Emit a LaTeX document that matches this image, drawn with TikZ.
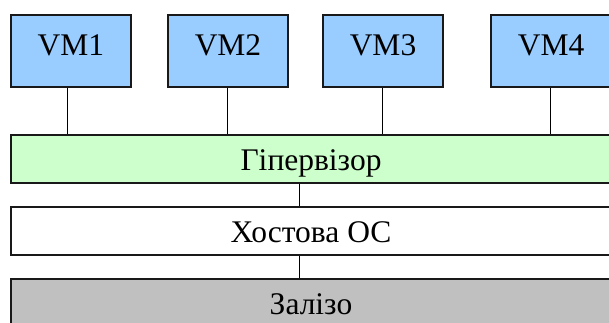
\documentclass[tikz,border=0pt]{standalone}
\usepackage{fontspec}
\setmainfont{Liberation Serif}
\newfontfamily\labelfont{Liberation Serif}
\definecolor{vmblue}{HTML}{99CCFF}
\definecolor{hypgreen}{HTML}{CCFFCC}
\definecolor{hwgray}{HTML}{C0C0C0}
\begin{document}
\begin{tikzpicture}[x=1pt,y=-1pt,
  boxfont/.style={font=\labelfont\fontsize{31.5}{36}\selectfont},
  vmbox/.style={boxfont, draw=black!90, line width=1.2pt, fill=vmblue,
    minimum width=120pt, inner xsep=0pt, inner ysep=0pt,
    text height=41pt, text depth=31pt},
  layer/.style={boxfont, draw=black!90, line width=1.2pt,
    minimum width=600pt, inner xsep=0pt, inner ysep=0pt,
    text height=35pt, text depth=13pt},
  link/.style={draw=black, line width=0.9pt}]
  \useasboundingbox (0,0) rectangle (609,323);
  \clip (0,0) rectangle (609,323);

  % virtual machines
  \node[vmbox] (vm1) at (71,51)  {VM1};
  \node[vmbox] (vm2) at (228,51) {VM2};
  \node[vmbox] (vm3) at (383,51) {VM3};
  \node[vmbox] (vm4) at (551,51) {VM4};

  % software and hardware layers
  \node[layer, fill=hypgreen] (hyp)  at (311,159) {Гіпервізор};
  \node[layer, fill=white]    (host) at (311,231) {Хостова ОС};
  \node[layer, fill=hwgray]   (hw)   at (311,303) {Залізо};

  % connections between layers
  \draw[link] ([xshift=-4pt]vm1.south) -- ([xshift=-4pt]vm1.south |- hyp.north);
  \draw[link] ([xshift=-1pt]vm2.south) -- ([xshift=-1pt]vm2.south |- hyp.north);
  \draw[link] ([xshift=-1pt]vm3.south) -- ([xshift=-1pt]vm3.south |- hyp.north);
  \draw[link] ([xshift=-1pt]vm4.south) -- ([xshift=-1pt]vm4.south |- hyp.north);
  \draw[link] ([xshift=-11.5pt]hyp.south) -- ([xshift=-11.5pt]host.north);
  \draw[link] ([xshift=-11.5pt]host.south) -- ([xshift=-11.5pt]hw.north);
\end{tikzpicture}
\end{document}
